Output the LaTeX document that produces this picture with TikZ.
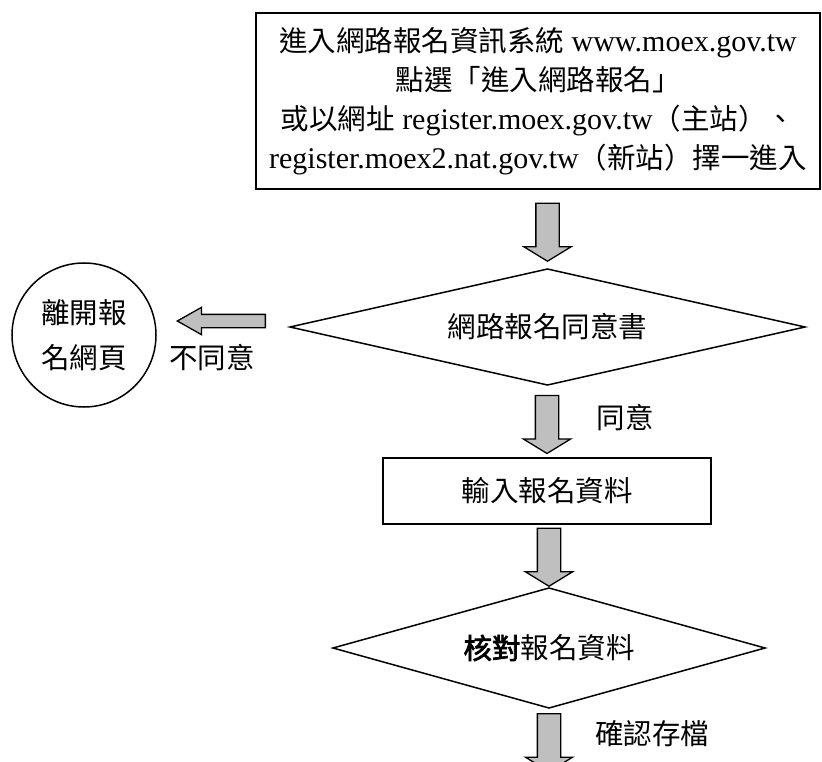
\documentclass[tikz,border=0pt]{standalone}
\usepackage{fontspec}
\setmainfont{Liberation Serif}
\newfontfamily\cjkfont[Scale=0.95]{Noto Sans CJK TC}
\newfontfamily\cjkbfont[Scale=0.95,FakeBold=2.5]{Noto Sans CJK TC}
\newcommand\cj[1]{{\cjkfont #1}}
\newcommand\cjb[1]{{\cjkbfont #1}}
\usetikzlibrary{shapes.geometric,shapes.arrows,calc}
\definecolor{arrowgray}{HTML}{BFBFBF}
\tikzset{
  txt/.style={font=\fontsize{30}{39}\selectfont},
  rectbox/.style={txt, draw, line width=1.5pt, inner sep=0pt, align=center},
  decision/.style={txt, inner sep=0pt, outer sep=0pt},
  diaedge/.style={line width=1.5pt, line join=miter},
  endcircle/.style={font=\fontsize{30}{45}\selectfont, draw, circle, line width=1.5pt, inner sep=0pt, align=center},
  blockdown/.style={shape=single arrow, draw, fill=arrowgray, line width=1.3pt,
    inner xsep=0pt, inner ysep=11pt, rotate=-90, minimum height=58pt,
    single arrow head extend=12pt, single arrow tip angle=117},
  blockleft/.style={shape=single arrow, draw, fill=arrowgray, line width=1.3pt,
    inner xsep=0pt, inner ysep=6pt, rotate=180, minimum height=88pt,
    single arrow head extend=7pt, single arrow tip angle=59},
  lbl/.style={txt, inner sep=0pt}
}
\begin{document}
\begin{tikzpicture}[x=1pt,y=-1pt]
\useasboundingbox (0,0) rectangle (822,762);
\node[rectbox, minimum width=564pt, minimum height=176pt] (start) at (538,101)
  {\cj{進入網路報名資訊系統} www.moex.gov.tw\\
   \cj{點選「進入網路報名」}\\
   \cj{或以網址} register.moex.gov.tw\cj{（主站）、}\\
   register.moex2.nat.gov.tw\cj{（新站）擇一進入}};
\node[decision, minimum width=515pt, minimum height=116pt] (agree) at (547.5,327) {\cj{網路報名同意書}};
\draw[diaedge] (agree.north) -- (agree.east) -- (agree.south) -- (agree.west) -- cycle;
\node[endcircle, minimum size=144pt] (leave) at (84,335) {\cj{離開報}\\\cj{名網頁}};
\node[rectbox, minimum width=328pt, minimum height=66pt] (input) at (547,491) {\cj{輸入報名資料}};
\node[decision, minimum width=432pt, minimum height=120pt] (check) at (549,648) {\cjb{核對}\cj{報名資料}};
\draw[diaedge] (check.north) -- (check.east) -- (check.south) -- (check.west) -- cycle;

\node[blockdown, anchor=tip] (a1) at ([yshift=7pt]agree.north) {};
\node[blockdown, anchor=tip] (a2) at ([yshift=3pt]input.north) {};
\node[blockdown, anchor=tip] (a3) at ([yshift=1pt]check.north) {};
\node[blockdown, anchor=tail] (a4) at ([yshift=-5pt]check.south) {};
\node[blockleft, anchor=tail] (a5) at ($(agree.west)+(-24,-6)$) {};

\node[lbl] (lno) at (212,358) {\cj{不同意}};
\node[lbl] (lyes) at (625,418) {\cj{同意}};
\node[lbl] (lsave) at (652,734) {\cj{確認存檔}};
\end{tikzpicture}
\end{document}
